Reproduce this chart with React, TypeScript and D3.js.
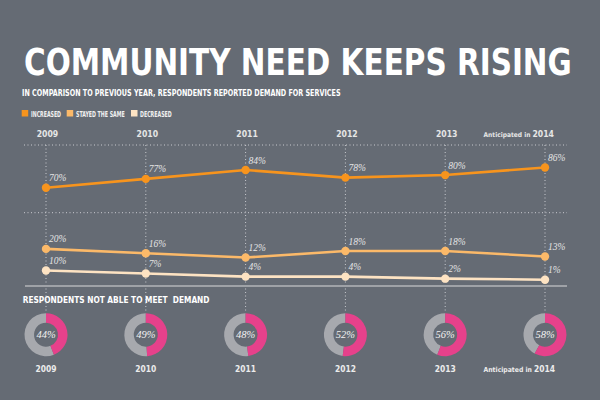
import React, { useLayoutEffect, useRef, useState } from "react";
import * as d3 from "d3";

const years = ["2009", "2010", "2011", "2012", "2013", "2014"];
const increased = [70, 77, 84, 78, 80, 86];
const stayedSame = [20, 16, 12, 18, 18, 13];
const decreased = [10, 7, 4, 4, 2, 1];
const notAbleToMeet = [44, 49, 48, 52, 56, 58];
const legendItems = ["INCREASED", "STAYED THE SAME", "DECREASED"];

const BG = "#656b74";
const C_INC = "#f7941d";
const C_SAME = "#fbb969";
const C_DEC = "#fde3c3";
const PINK = "#e6418b";
const RING = "#a7a9ae";
const COND = "'Liberation Sans Narrow', 'DejaVu Sans Condensed', 'Roboto Condensed', sans-serif";
const SERIF = "'Liberation Serif', 'DejaVu Serif', serif";

function FitText(props: {
  x: number;
  y: number;
  width: number;
  fontSize: number;
  fill: string;
  children: string;
}) {
  const ref = useRef<SVGTextElement>(null);
  const [sx, setSx] = useState(1);
  useLayoutEffect(() => {
    if (ref.current) {
      const len = ref.current.getComputedTextLength();
      if (len > 0) setSx(props.width / len);
    }
  }, [props.width, props.children, props.fontSize]);
  return (
    <g transform={`translate(${props.x},${props.y}) scale(${sx},1)`}>
      <text ref={ref} x={0} y={0} fill={props.fill} fontFamily={COND} fontWeight="bold" fontSize={props.fontSize} style={{ whiteSpace: "pre" }}>
        {props.children}
      </text>
    </g>
  );
}

export default function App() {
  const x = d3.scalePoint<string>().domain(years).range([46, 545]);
  const yInc = d3.scaleLinear().domain([70, 86]).range([187.7, 167.5]);
  const ySame = d3.scaleLinear().domain([10, 20]).range([259.7, 248.9]);
  const yDec = d3.scaleLinear().domain([0, 10]).range([280.7, 270.5]);

  const series = [
    { values: increased, color: C_INC, y: yInc },
    { values: stayedSame, color: C_SAME, y: ySame },
    { values: decreased, color: C_DEC, y: yDec },
  ];

  const arc = d3.arc<any>().innerRadius(12).outerRadius(21.5);
  const legendX = [
    { sq: 21.7, tx: 31, w: 30 },
    { sq: 66.7, tx: 76, w: 48.7 },
    { sq: 131, tx: 140, w: 31.7 },
  ];
  const legendColors = [C_INC, C_SAME, C_DEC];

  return (
    <div style={{ position: "fixed", left: 0, top: 0 }}>
      <svg width={600} height={400} style={{ display: "block" }}>
        <rect width={600} height={400} fill={BG} />
        <FitText x={24} y={75} width={548} fontSize={38} fill="#fff">
          COMMUNITY NEED KEEPS RISING
        </FitText>
        <FitText x={22} y={96.3} width={319} fontSize={9} fill="#fff">
          IN COMPARISON TO PREVIOUS YEAR, RESPONDENTS REPORTED DEMAND FOR SERVICES
        </FitText>
        {legendItems.map((l, i) => (
          <g key={l}>
            <rect x={legendX[i].sq} y={110} width={6.5} height={6.5} fill={legendColors[i]} />
            <FitText x={legendX[i].tx} y={116.6} width={legendX[i].w} fontSize={8.2} fill="#f0f0f0">
              {l}
            </FitText>
          </g>
        ))}

        {/* year labels top */}
        {years.map((yr, i) =>
          i < years.length - 1 ? (
            <text key={yr} x={x(yr)! + 1.5} y={136.7} textAnchor="middle" fill="#e6e6e6" fontFamily={COND} fontWeight="bold" fontSize={8.6}>
              {yr}
            </text>
          ) : (
            <text key={yr} x={554} y={136.7} textAnchor="end" fill="#e6e6e6" fontFamily={COND} fontWeight="bold">
              <tspan fontSize={6.6}>Anticipated in </tspan>
              <tspan fontSize={8.6}>{yr}</tspan>
            </text>
          )
        )}

        {/* grid */}
        {[145, 212.7].map((gy) => (
          <line key={gy} x1={24} x2={567} y1={gy} y2={gy} stroke="#c9cbcf" strokeWidth={1} strokeDasharray="1,2.5" />
        ))}
        {years.map((yr) => (
          <line key={yr} x1={x(yr)!} x2={x(yr)!} y1={145} y2={313} stroke="#c9cbcf" strokeWidth={1} strokeDasharray="1,2.5" />
        ))}
        <line x1={25} x2={567} y1={286} y2={286} stroke="#9fa2a7" strokeWidth={2} />

        {/* lines */}
        {series.map((s, si) => {
          const line = d3
            .line<number>()
            .x((_, i) => x(years[i])!)
            .y((v) => s.y(v));
          return (
            <g key={si}>
              <path d={line(s.values) || ""} fill="none" stroke={s.color} strokeWidth={2.6} />
              {s.values.map((v, i) => (
                <g key={i}>
                  <circle cx={x(years[i])!} cy={s.y(v)} r={4.2} fill={s.color} />
                  <text x={x(years[i])! + 3} y={s.y(v) - 6.5} fill="#e4e4e4" fontFamily={SERIF} fontStyle="italic" fontSize={9.5}>
                    {v}%
                  </text>
                </g>
              ))}
            </g>
          );
        })}

        <FitText x={22.7} y={303.3} width={187} fontSize={9} fill="#fff">
          {"RESPONDENTS NOT ABLE TO MEET  DEMAND"}
        </FitText>

        {/* donuts */}
        {notAbleToMeet.map((v, i) => {
          const cx = x(years[i])!;
          const cy = 334.7;
          const end = (v / 100) * 2 * Math.PI;
          return (
            <g key={i} transform={`translate(${cx},${cy})`}>
              <path d={arc({ startAngle: end, endAngle: 2 * Math.PI }) || ""} fill={RING} />
              <path d={arc({ startAngle: 0, endAngle: end }) || ""} fill={PINK} />
              <text x={0} y={3.5} textAnchor="middle" fill="#f2f2f2" fontFamily={SERIF} fontStyle="italic" fontSize={10.5}>
                {v}%
              </text>
            </g>
          );
        })}

        {/* year labels bottom */}
        {years.map((yr, i) =>
          i < years.length - 1 ? (
            <text key={yr} x={x(yr)!} y={371.7} textAnchor="middle" fill="#ececec" fontFamily={COND} fontWeight="bold" fontSize={8.4}>
              {yr}
            </text>
          ) : (
            <text key={yr} x={555} y={371.7} textAnchor="end" fill="#ececec" fontFamily={COND} fontWeight="bold">
              <tspan fontSize={6.8}>Anticipated in </tspan>
              <tspan fontSize={8.4}>{yr}</tspan>
            </text>
          )
        )}
      </svg>
    </div>
  );
}
